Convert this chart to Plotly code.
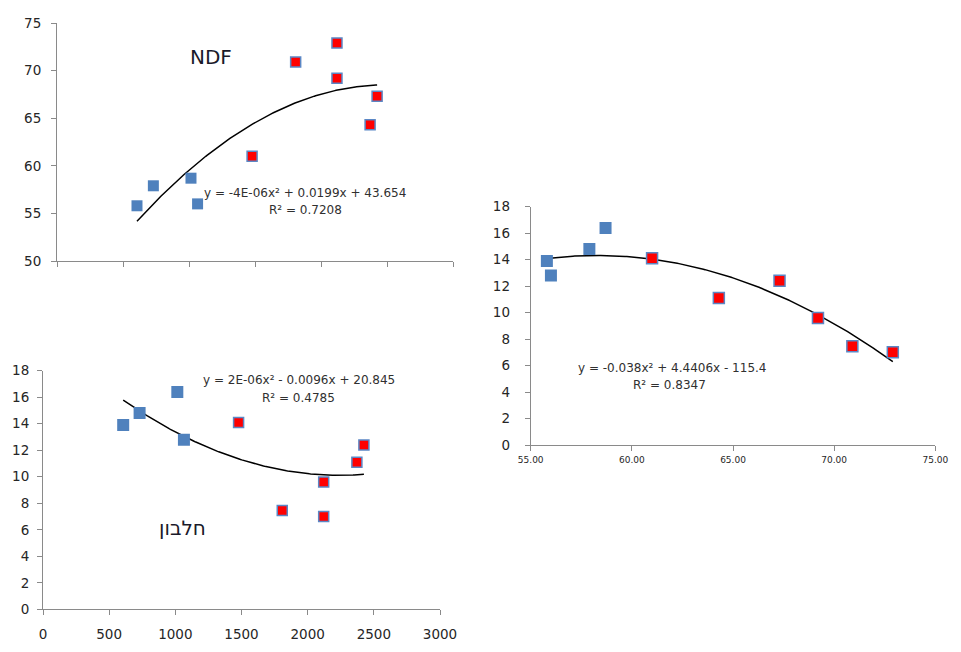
import numpy as np
import plotly.graph_objects as go

# ---- data ----
dose = [606, 730, 1015, 1065, 1478, 1808, 2121, 2121, 2372, 2425]
ndf = [55.8, 57.9, 58.7, 56.0, 61.0, 70.9, 72.9, 69.2, 64.3, 67.3]
protein = [13.9, 14.8, 16.4, 12.8, 14.1, 7.45, 7.0, 9.6, 11.1, 12.4]
n_blue = 4  # first four samples drawn as blue squares, rest red

eq_ndf = ["y = -4E-06x² + 0.0199x + 43.654", "R² = 0.7208"]
eq_prot = ["y = 2E-06x² - 0.0096x + 20.845", "R² = 0.4785"]
eq_np = ["y = -0.038x² + 4.4406x - 115.4", "R² = 0.8347"]

W, H = 961, 652
BLUE = "#4F81BD"
RED = "#FF0000"
AX = "#8a8a8a"
TXT = "#262626"
FONT = "DejaVu Sans"


def px_dom_x(a, b):
    return [a / W, b / W]


def px_dom_y(top, bottom):
    return [1 - bottom / H, 1 - top / H]


fig = go.Figure()


def add_panel(xs, ys, xa, ya, sb, sr):
    xs = np.asarray(xs, float)
    ys = np.asarray(ys, float)
    c = np.polyfit(xs, ys, 2)
    xx = np.linspace(xs.min(), xs.max(), 200)
    fig.add_trace(go.Scatter(x=xx, y=np.polyval(c, xx), mode="lines",
                             line=dict(color="black", width=1.5),
                             xaxis=xa, yaxis=ya, showlegend=False, hoverinfo="skip"))
    fig.add_trace(go.Scatter(x=xs[:n_blue], y=ys[:n_blue], mode="markers",
                             marker=dict(symbol="square", size=sb, color=BLUE,
                                         line=dict(width=0)),
                             xaxis=xa, yaxis=ya, showlegend=False))
    fig.add_trace(go.Scatter(x=xs[n_blue:], y=ys[n_blue:], mode="markers",
                             marker=dict(symbol="square", size=sr, color=RED,
                                         line=dict(width=1.5, color="#5B87C5")),
                             xaxis=xa, yaxis=ya, showlegend=False))


add_panel(dose, ndf, "x", "y", 11, 10)
add_panel(dose, protein, "x2", "y2", 12, 10)
add_panel(ndf, protein, "x3", "y3", 12, 11)

axcommon = dict(showgrid=False, zeroline=False, showline=True, linecolor=AX,
                linewidth=1, ticks="outside", tickcolor=AX, ticklen=5,
                automargin=False,
                tickfont=dict(family=FONT, size=13.5, color=TXT))

fig.update_layout(
    width=W, height=H, margin=dict(l=0, r=0, t=0, b=0, autoexpand=False),
    paper_bgcolor="white", plot_bgcolor="white", showlegend=False,
    xaxis=dict(axcommon, domain=px_dom_x(57, 453), range=[0, 3000], dtick=500,
               showticklabels=False, anchor="y"),
    yaxis=dict(axcommon, domain=px_dom_y(23, 261), range=[50, 75], dtick=5,
               anchor="x", ticklabelstandoff=7),
    xaxis2=dict(axcommon, domain=px_dom_x(43, 440), range=[0, 3000], dtick=500,
                anchor="y2", ticklabelstandoff=7),
    yaxis2=dict(axcommon, domain=px_dom_y(370.7, 609.3), range=[0, 18], dtick=2,
                anchor="x2", ticklabelstandoff=5),
    xaxis3=dict(axcommon, domain=px_dom_x(530.7, 935.3), range=[55, 75], dtick=5,
                tickformat=".2f", anchor="y3", ticklabelstandoff=1,
                tickfont=dict(family=FONT, size=9, color=TXT)),
    yaxis3=dict(axcommon, domain=px_dom_y(206.7, 445), range=[0, 18], dtick=2,
                anchor="x3", ticklabelstandoff=12),
)

ann_font = dict(family=FONT, size=12, color="#303030")
anns = [
    dict(x=1167, y=71.4, xref="x", yref="y", text="NDF",
         font=dict(family=FONT, size=20, color="#1a1a2a")),
    dict(x=1879, y=57.15, xref="x", yref="y", text=eq_ndf[0], font=ann_font),
    dict(x=1879, y=55.35, xref="x", yref="y", text=eq_ndf[1], font=ann_font),
    dict(x=1054, y=6.1, xref="x2", yref="y2", text="חלבון",
         font=dict(family=FONT, size=20, color="#1a1a2a")),
    dict(x=1934, y=17.29, xref="x2", yref="y2", text=eq_prot[0], font=ann_font),
    dict(x=1934, y=15.93, xref="x2", yref="y2", text=eq_prot[1], font=ann_font),
    dict(x=61.98, y=5.79, xref="x3", yref="y3", text=eq_np[0], font=ann_font),
    dict(x=61.88, y=4.53, xref="x3", yref="y3", text=eq_np[1], font=ann_font),
]
for a in anns:
    a.update(showarrow=False, xanchor="center", yanchor="middle")
fig.update_layout(annotations=anns)

fig.write_html("out.html")
